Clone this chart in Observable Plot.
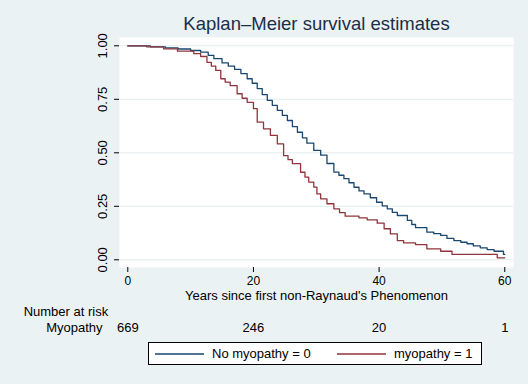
<!DOCTYPE html>
<html>
<head>
<meta charset="utf-8">
<script src="https://cdn.jsdelivr.net/npm/d3@7"></script>
<script src="https://cdn.jsdelivr.net/npm/@observablehq/plot@0.6"></script>
<style>
  body { margin: 0; background: #EAF2F3; }
  #wrap { position: relative; width: 528px; height: 384px; background: #EAF2F3; font-family: "Liberation Sans", Arial, sans-serif; }
  #legend { position: absolute; left: 148px; top: 342px; width: 334px; height: 23px; background: #fff; border: 1px solid #000; box-sizing: border-box; font-size: 13px; color: #000; }
  .item { position: absolute; top: 0; height: 100%; display: flex; align-items: center; }
  .item svg { margin-right: 8px; }
</style>
</head>
<body>
<div id="wrap"></div>
<script>
const title = "Kaplan–Meier survival estimates";
const xLabel = "Years since first non-Raynaud's Phenomenon";
const xTicks = [0, 20, 40, 60];
const yTicks = [0, 0.25, 0.5, 0.75, 1];
const groupNames = ["No myopathy = 0", "myopathy = 1"];
const groupColors = ["#1a476f", "#90353b"];

// No myopathy = 0
const timesNo = [0, 3.6, 6, 8, 10, 11.6, 12.8, 13.7, 15, 16, 17, 18, 19, 19.8, 20.6, 21.4, 22.2, 23, 23.8, 24.6, 25.4, 26.2, 27.0, 27.8, 28.5, 29.6, 30.7, 31.7, 32.8, 33.6, 34.4, 35.2, 36.0, 36.8, 37.6, 38.6, 39.6, 40.5, 41.3, 42.1, 42.9, 44.5, 45.2, 45.8, 47.6, 48.7, 49.8, 50.8, 51.9, 53, 54.0, 55, 56.1, 57.2, 58.3, 59.8, 60.0];
const survNo  = [1.000, 0.995, 0.990, 0.985, 0.978, 0.970, 0.955, 0.940, 0.920, 0.905, 0.890, 0.870, 0.846, 0.825, 0.800, 0.772, 0.745, 0.722, 0.698, 0.675, 0.651, 0.622, 0.596, 0.570, 0.545, 0.511, 0.489, 0.450, 0.410, 0.395, 0.379, 0.360, 0.339, 0.322, 0.308, 0.290, 0.269, 0.252, 0.238, 0.222, 0.207, 0.184, 0.165, 0.150, 0.129, 0.122, 0.114, 0.100, 0.090, 0.082, 0.075, 0.065, 0.056, 0.048, 0.040, 0.025, 0.025];

// myopathy = 1
const timesMyo = [0, 3, 5.7, 7.9, 10.5, 11.6, 12.6, 13.3, 14.0, 14.8, 15.5, 16.3, 17.4, 18.2, 19.0, 20.0, 20.6, 21.6, 22.7, 23.8, 24.8, 25.5, 26.2, 27.5, 28.2, 28.8, 29.6, 30.1, 30.7, 31.7, 32.8, 33.7, 34.6, 36.8, 38.1, 39.7, 40.8, 41.8, 42.9, 43.9, 45.8, 47.6, 49.8, 51.6, 58.8, 60];
const survMyo  = [1.000, 0.995, 0.986, 0.975, 0.963, 0.950, 0.923, 0.905, 0.885, 0.846, 0.830, 0.814, 0.776, 0.755, 0.736, 0.706, 0.643, 0.612, 0.581, 0.542, 0.487, 0.468, 0.449, 0.409, 0.386, 0.363, 0.340, 0.308, 0.285, 0.262, 0.238, 0.220, 0.204, 0.196, 0.187, 0.171, 0.145, 0.121, 0.090, 0.079, 0.071, 0.051, 0.040, 0.025, 0.009, 0.009];

const riskTimes = [0, 20, 40, 60];
const riskCounts = [669, 246, 20, 1];

const dataNo = timesNo.map((t, i) => ({t, s: survNo[i]}));
const dataMyo = timesMyo.map((t, i) => ({t, s: survMyo[i]}));
const risk = riskTimes.map((t, i) => ({t, n: riskCounts[i]}));

const chart = Plot.plot({
  width: 528,
  height: 384,
  marginLeft: 119,
  marginRight: 15,
  marginTop: 37,
  marginBottom: 117,
  style: {background: "#EAF2F3", fontFamily: "'Liberation Sans', Arial, sans-serif", fontSize: "12px", color: "#000", overflow: "visible"},
  x: {domain: [-1.32, 61.39]},
  y: {domain: [-0.036, 1.0388]},
  marks: [
    Plot.frame({fill: "white", stroke: null}),
    Plot.gridY(yTicks, {stroke: "#E3ECEE", strokeOpacity: 1, strokeWidth: 1}),
    Plot.line(dataNo, {x: "t", y: "s", curve: "step-after", stroke: groupColors[0], strokeWidth: 1.3}),
    Plot.line(dataMyo, {x: "t", y: "s", curve: "step-after", stroke: groupColors[1], strokeWidth: 1.3}),
    Plot.axisY(yTicks, {tickSize: 5, line: true, label: null, tickFormat: () => "", stroke: "#000"}),
    Plot.text(yTicks, {y: d => d, text: d3.format(".2f"), frameAnchor: "left", dx: -16.3, rotate: -90, textAnchor: "middle", lineAnchor: "middle", fontSize: 13, fill: "#000"}),
    Plot.axisX(xTicks, {tickSize: 5, tickPadding: 3.5, line: true, label: null, fontSize: 12, stroke: "#000", fill: "#000"}),
    Plot.text([xLabel], {frameAnchor: "bottom", dy: 32.6, lineAnchor: "bottom", fontSize: 13, fill: "#000"}),
    Plot.text(["Number at risk"], {frameAnchor: "bottom-left", dx: -11.3, dy: 48.6, textAnchor: "end", lineAnchor: "bottom", fontSize: 13, fill: "#000"}),
    Plot.text(["Myopathy"], {frameAnchor: "bottom-left", dx: -17, dy: 64.4, textAnchor: "end", lineAnchor: "bottom", fontSize: 13, fill: "#000"}),
    Plot.text(risk, {x: "t", text: "n", frameAnchor: "bottom", dy: 64.4, lineAnchor: "bottom", fontSize: 13, fill: "#000"}),
    Plot.text([title], {frameAnchor: "top", dy: -7.7, lineAnchor: "bottom", fontSize: 18.5, fill: "#1c2e4a"})
  ]
});

const wrap = document.getElementById("wrap");
wrap.appendChild(chart);

const legend = d3.select(wrap).append("div").attr("id", "legend");
const lefts = [6, 188];
groupNames.forEach((name, i) => {
  const item = legend.append("div").attr("class", "item").style("left", lefts[i] + "px");
  const sw = item.append("svg").attr("width", 49).attr("height", 4);
  sw.append("line").attr("x1", 0).attr("x2", 49).attr("y1", 2).attr("y2", 2)
    .attr("stroke", groupColors[i]).attr("stroke-width", 1.3);
  item.append("span").text(name);
});
</script>
</body>
</html>
